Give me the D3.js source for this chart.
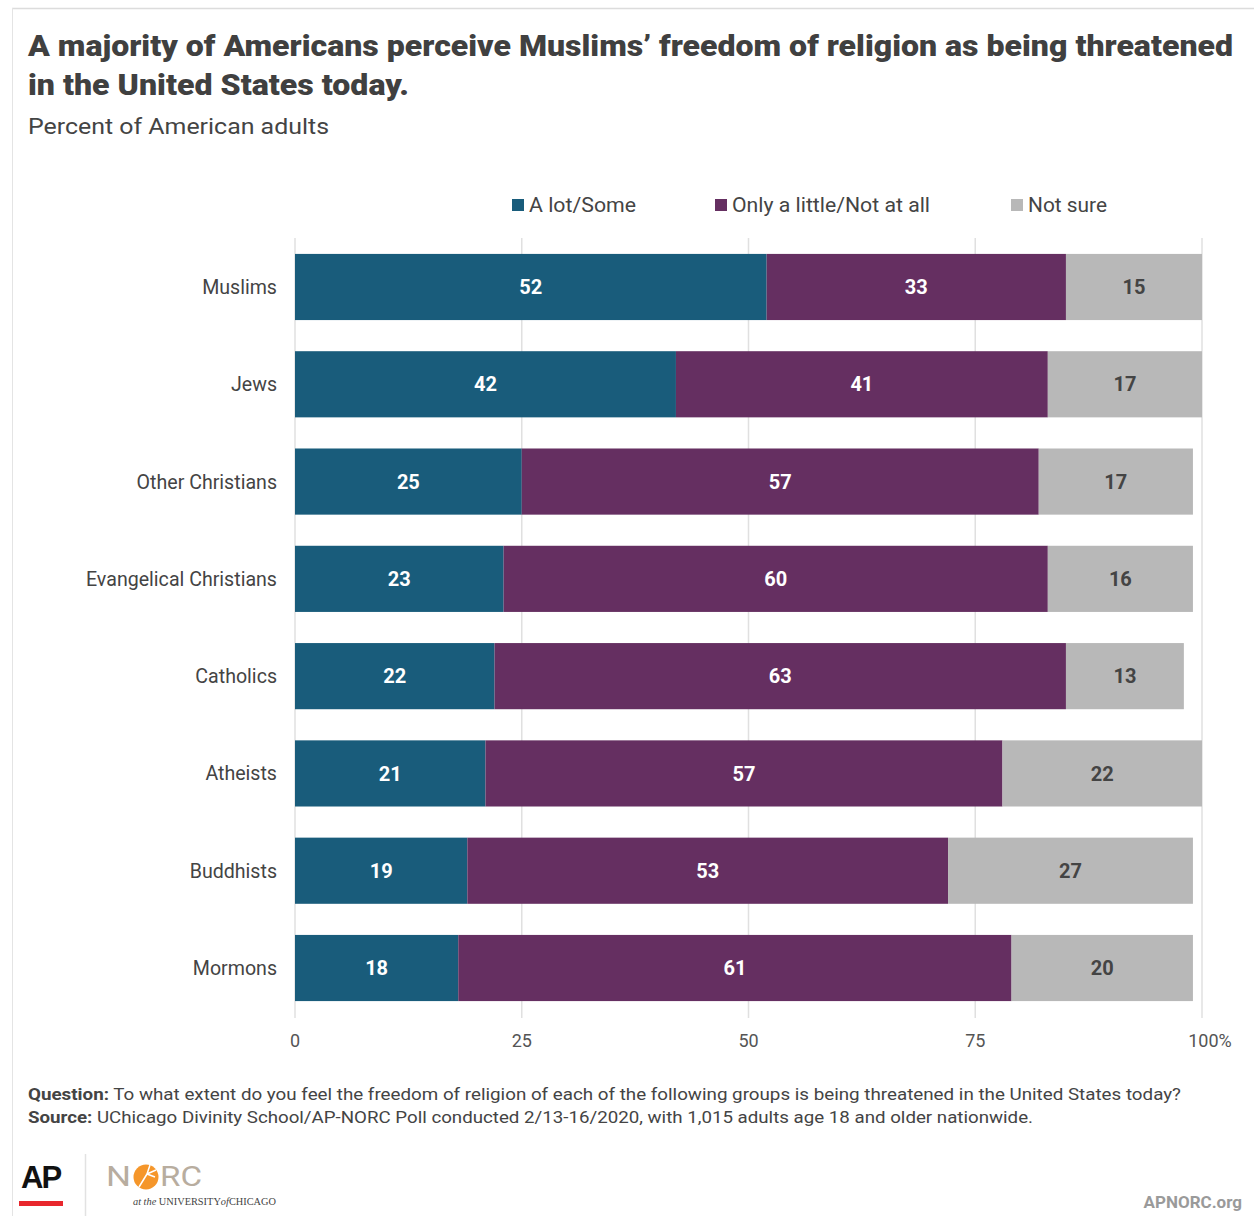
<!DOCTYPE html>
<html><head><meta charset="utf-8">
<script src="https://cdn.jsdelivr.net/npm/d3@7"></script>
<style>
html,body{margin:0;padding:0;background:#fff;}
svg{display:block;font-family:Roboto,"Noto Sans",sans-serif;}
</style></head>
<body>
<svg id="c" width="1254" height="1216"></svg>
<script>
const categories = ["Muslims","Jews","Other Christians","Evangelical Christians","Catholics","Atheists","Buddhists","Mormons"];
const seriesNames = ["A lot/Some","Only a little/Not at all","Not sure"];
const aLotSome   = [52,42,25,23,22,21,19,18];
const onlyLittle = [33,41,57,60,63,57,53,61];
const notSure    = [15,17,17,16,13,22,27,20];
const xTicks = [0,25,50,75,100];
const tickLabels = ["0","25","50","75","100%"];
const colors = ["#195c7b","#652f61","#b8b8b8"];

const svg = d3.select("#c");

// frame
svg.append("line").attr("x1",12).attr("x2",1254).attr("y1",8.5).attr("y2",8.5).attr("stroke","#dcdcdc").attr("stroke-width",1.5);
svg.append("line").attr("x1",12.5).attr("x2",12.5).attr("y1",8).attr("y2",1216).attr("stroke","#e4e4e4").attr("stroke-width",1);

function fitText(sel, w){ sel.attr("textLength", w).attr("lengthAdjust","spacingAndGlyphs"); }

// title
const t1 = svg.append("text").attr("x",28).attr("y",56).attr("font-size",30).attr("font-weight",900).attr("fill","#404040")
  .text("A majority of Americans perceive Muslims\u2019 freedom of religion as being threatened");
fitText(t1,1205);
const t2 = svg.append("text").attr("x",28).attr("y",95).attr("font-size",30).attr("font-weight",900).attr("fill","#404040")
  .text("in the United States today.");
fitText(t2,381);
const st = svg.append("text").attr("x",28).attr("y",134).attr("font-size",22).attr("fill","#444").text("Percent of American adults");
fitText(st,301);

// scales
const x = d3.scaleLinear().domain([0,100]).range([295,1202]);
const y = d3.scaleBand().domain(categories).range([238.35,1016.65]).paddingInner(0.32).paddingOuter(0.16);

// gridlines
svg.append("g").selectAll("line").data(xTicks).join("line")
  .attr("x1",d=>x(d)).attr("x2",d=>x(d)).attr("y1",238).attr("y2",1018)
  .attr("stroke","#e0e0e0").attr("stroke-width",1.5);

// legend
const legX = [512,715,1011], legTextW=[107,198,79];
const leg = svg.append("g");
seriesNames.forEach((n,i)=>{
  leg.append("rect").attr("x",legX[i]).attr("y",199).attr("width",12).attr("height",12).attr("fill",colors[i]);
  const tt = leg.append("text").attr("x",legX[i]+17).attr("y",212).attr("font-size",20).attr("fill","#444").text(n);
  fitText(tt,legTextW[i]);
});

// stacked data
const rows = categories.map((c,i)=>({cat:c, a:aLotSome[i], b:onlyLittle[i], c2:notSure[i]}));
const stack = d3.stack().keys(["a","b","c2"])(rows);
const g = svg.append("g");
stack.forEach((layer,li)=>{
  g.append("g").selectAll("rect").data(layer).join("rect")
    .attr("x",d=>x(d[0])).attr("width",d=>x(d[1])-x(d[0]))
    .attr("y",d=>y(d.data.cat)).attr("height",y.bandwidth())
    .attr("fill",colors[li]);
  g.append("g").selectAll("text").data(layer).join("text")
    .attr("x",d=>(x(d[0])+x(d[1]))/2).attr("y",d=>y(d.data.cat)+y.bandwidth()/2)
    .attr("dy","0.36em").attr("text-anchor","middle")
    .attr("font-size",20).attr("font-weight",700)
    .attr("fill",li<2?"#fff":"#444")
    .text(d=>d[1]-d[0]);
});

// y axis labels
svg.append("g").selectAll("text").data(categories).join("text")
  .attr("x",277).attr("y",d=>y(d)+y.bandwidth()/2).attr("dy","0.36em")
  .attr("text-anchor","end").attr("font-size",19.6).attr("fill","#444").text(d=>d);

// x axis labels
svg.append("g").selectAll("text").data(xTicks).join("text")
  .attr("x",(d,i)=>x(d)+(i===xTicks.length-1?8:0)).attr("y",1041).attr("dy","0.36em")
  .attr("text-anchor","middle").attr("font-size",18).attr("fill","#555").text((d,i)=>tickLabels[i]);

// footer notes
const q = svg.append("text").attr("x",28).attr("y",1100).attr("font-size",17).attr("fill","#444");
q.append("tspan").attr("font-weight",700).text("Question:");
q.append("tspan").text(" To what extent do you feel the freedom of religion of each of the following groups is being threatened in the United States today?");
fitText(q,1153);
const s = svg.append("text").attr("x",28).attr("y",1123).attr("font-size",17).attr("fill","#444");
s.append("tspan").attr("font-weight",700).text("Source:");
s.append("tspan").text(" UChicago Divinity School/AP-NORC Poll conducted 2/13-16/2020, with 1,015 adults age 18 and older nationwide.");
fitText(s,1005);

// logos
svg.append("text").attr("x",21).attr("y",1188).attr("font-family","Liberation Sans, Arial, sans-serif")
  .attr("font-size",31).attr("font-weight",700).attr("fill","#111").attr("letter-spacing",-2).text("AP");
svg.append("rect").attr("x",19).attr("y",1201).attr("width",44).attr("height",5).attr("fill","#e8272d");
svg.append("line").attr("x1",85.5).attr("x2",85.5).attr("y1",1154).attr("y2",1216).attr("stroke","#e2e2e2").attr("stroke-width",1.5);
const nN = svg.append("text").attr("x",106).attr("y",1186).attr("font-size",27).attr("fill","#b8ad9f").text("N");
fitText(nN,25);
svg.append("circle").attr("cx",146).attr("cy",1177).attr("r",12.5).attr("fill","#f5962a");
svg.append("path").attr("d","M139,1187 L147,1174 M147,1174 L156,1170 M147,1174 L150,1165 M147,1174 L155,1177")
  .attr("stroke","#fff").attr("stroke-width",1.5).attr("fill","none");
const nRC = svg.append("text").attr("x",160).attr("y",1186).attr("font-size",27).attr("fill","#b8ad9f").text("RC");
fitText(nRC,42);
const uc = svg.append("text").attr("x",133).attr("y",1205).attr("font-family","Liberation Serif, serif").attr("font-size",9.5).attr("fill","#444");
uc.append("tspan").attr("font-style","italic").text("at the ");
uc.append("tspan").text("UNIVERSITY");
uc.append("tspan").attr("font-style","italic").text("of");
uc.append("tspan").text("CHICAGO");
fitText(uc,143);
svg.append("text").attr("x",1242).attr("y",1208).attr("text-anchor","end").attr("font-size",17).attr("font-weight",700).attr("fill","#9a9a9a").text("APNORC.org");
</script>
</body></html>
